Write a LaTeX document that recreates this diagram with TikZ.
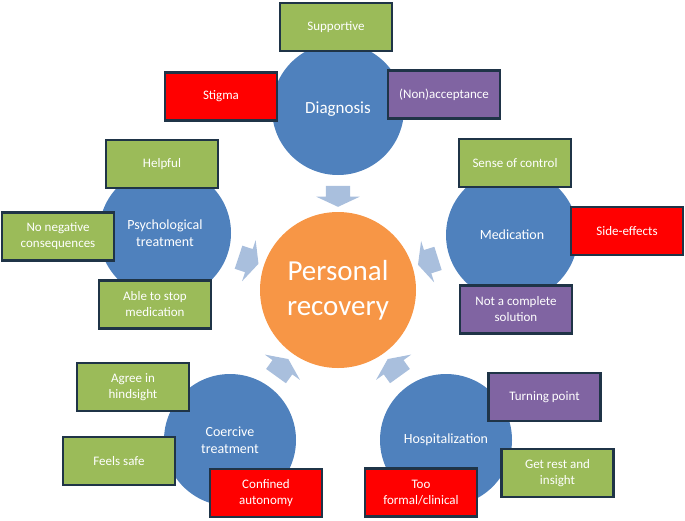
\documentclass[tikz,border=0pt]{standalone}
\usepackage{fontspec}
\setmainfont{Carlito}
\usetikzlibrary{shapes.arrows}
\definecolor{themeblue}{HTML}{4F81BD}
\definecolor{recorange}{HTML}{F79646}
\definecolor{posgreen}{HTML}{9BBB59}
\definecolor{negred}{HTML}{FF0000}
\definecolor{mixpurple}{HTML}{8064A2}
\definecolor{boxline}{HTML}{1F3447}
\definecolor{flowblue}{HTML}{A9BFDD}
\tikzset{
 topic/.style={circle, fill=themeblue, text=white, minimum size=132pt, inner sep=0pt, outer sep=0pt, align=center, font=\fontsize{14}{17}\selectfont},
 aspect/.style={rectangle, draw=boxline, line width=2.5pt, minimum width=112pt, minimum height=48pt, inner sep=2pt, text=white, align=center, font=\fontsize{13}{16}\selectfont},
 flow/.style={single arrow, fill=flowblue, draw=none, sloped, allow upside down, minimum height=21pt, inner xsep=0pt, inner ysep=12pt, single arrow head extend=9.5pt, single arrow tip angle=130}
}
\newcommand{\topic}[3]{%
 \node[topic] ({#1}) at ({#2}) {#3}; %
}
\newcommand{\aspect}[4]{%
 \node[aspect, fill=#2] ({#1}) at ({#3}) {#4}; %
}

\begin{document}
\begin{tikzpicture}[x=1pt, y=-1pt]
   \useasboundingbox (0,0) rectangle (685,520);
   \node[topic, fill=recorange, minimum size=156pt, font=\fontsize{29}{35}\selectfont] (rec) at (338,290) {Personal\\recovery};
   \topic{diag}{338,109}{\fontsize{17}{20}\selectfont Diagnosis};
   \topic{psych}{165,233}{Psychological\\treatment};
   \topic{medi}{512,235}{Medication};
   \topic{coer}{230,440}{Coercive\\treatment};
   \topic{hosp}{446,440}{Hospitalization};
   % arrows into personal recovery
   \path (diag) -- node[flow] (f1) {} (rec);
   \path (psych) -- node[flow] (f2) {} (rec);
   \path (medi) -- node[flow] (f3) {} (rec);
   \path (coer) -- node[flow] (f4) {} (rec);
   \path (hosp) -- node[flow] (f5) {} (rec);
   % diagnosis
   \aspect{supp}{posgreen}{336,27}{Supportive};
   \aspect{stig}{negred}{221,96.5}{Stigma};
   \aspect{nonacc}{mixpurple}{444,94.5}{(Non)acceptance};
   % psychological treatment
   \aspect{help}{posgreen}{162,164}{Helpful};
   \aspect{noneg}{posgreen}{58,236.5}{No negative\\consequences};
   \aspect{stop}{posgreen}{155,304.5}{Able to stop\\medication};
   % medication
   \aspect{ctrl}{posgreen}{515,163}{Sense of control};
   \aspect{side}{negred}{627,231}{Side-effects};
   \aspect{notsol}{mixpurple}{516,309.5}{Not a complete\\solution};
   % coercive treatment
   \aspect{agree}{posgreen}{133,387}{Agree in\\hindsight};
   \aspect{safe}{posgreen}{119,461}{Feels safe};
   \aspect{conf}{negred}{266,493}{Confined\\autonomy};
   % hospitalization
   \aspect{turn}{mixpurple}{544.5,397}{Turning point};
   \aspect{rest}{posgreen}{557.5,473}{Get rest and\\insight};
   \aspect{formal}{negred}{421,492.5}{Too\\formal/clinical};
  \end{tikzpicture}
\end{document}
